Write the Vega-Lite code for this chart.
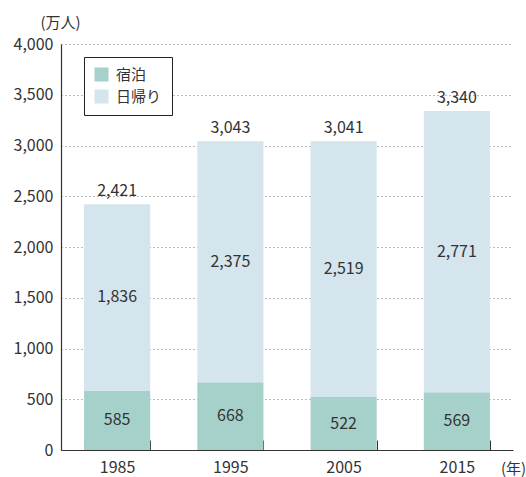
{
  "$schema": "https://vega.github.io/schema/vega-lite/v6.json",
  "width": 452,
  "height": 406,
  "autosize": {"type": "none"},
  "padding": {"left": 61, "top": 44, "right": 13, "bottom": 27},
  "config": {
    "view": {"stroke": null},
    "font": "Noto Sans CJK JP",
    "text": {"font": "Noto Sans CJK JP"}
  },
  "data": {
    "values": [
      {"year": "1985", "type": "宿泊", "value": 585},
      {"year": "1985", "type": "日帰り", "value": 1836},
      {"year": "1995", "type": "宿泊", "value": 668},
      {"year": "1995", "type": "日帰り", "value": 2375},
      {"year": "2005", "type": "宿泊", "value": 522},
      {"year": "2005", "type": "日帰り", "value": 2519},
      {"year": "2015", "type": "宿泊", "value": 569},
      {"year": "2015", "type": "日帰り", "value": 2771}
    ]
  },
  "encoding": {
    "x": {
      "field": "year",
      "type": "ordinal",
      "scale": {"paddingInner": 0.416, "paddingOuter": 0.2035},
      "axis": {
        "title": "(年)",
        "titleX": 452,
        "titleY": 18,
        "titleAlign": "center",
        "titleBaseline": "middle",
        "titleFontSize": 15,
        "titleFontWeight": "normal",
        "titleColor": "#333",
        "labelAngle": 0,
        "labelFontSize": 16,
        "labelColor": "#333",
        "labelPadding": 19,
        "tickBand": "extent",
        "tickSize": -10,
        "tickColor": "#333",
        "domainColor": "#333",
        "domainWidth": 1.2
      }
    }
  },
  "layer": [
    {
      "mark": {"type": "bar"},
      "encoding": {
        "y": {
          "field": "value",
          "type": "quantitative",
          "stack": "zero",
          "scale": {"domain": [0, 4000]},
          "axis": {
            "values": [0, 500, 1000, 1500, 2000, 2500, 3000, 3500, 4000],
            "format": ",d",
            "title": "(万人)",
            "titleAngle": 0,
            "titleX": -1,
            "titleY": -22,
            "titleAlign": "center",
            "titleBaseline": "middle",
            "titleFontSize": 15,
            "titleFontWeight": "normal",
            "titleColor": "#333",
            "labelFontSize": 16,
            "labelColor": "#333",
            "labelPadding": 8,
            "ticks": false,
            "domainColor": "#333",
            "domainWidth": 1.2,
            "grid": true,
            "gridColor": "#777",
            "gridDash": [1, 3],
            "gridWidth": 1
          }
        },
        "order": {"field": "type", "sort": "ascending"},
        "color": {
          "field": "type",
          "type": "nominal",
          "scale": {"domain": ["宿泊", "日帰り"], "range": ["#a5d1ca", "#d4e5ee"]},
          "legend": {
            "title": null,
            "orient": "none",
            "legendX": 23,
            "legendY": 13,
            "strokeColor": "#222",
            "fillColor": "white",
            "padding": 10,
            "symbolType": "square",
            "symbolSize": 196,
            "symbolStrokeWidth": 0,
            "labelFontSize": 15,
            "labelColor": "#333",
            "rowPadding": 6,
            "labelOffset": 7
          }
        }
      }
    },
    {
      "transform": [
        {"stack": "value", "groupby": ["year"], "sort": [{"field": "type", "order": "ascending"}], "as": ["v0", "v1"]},
        {"calculate": "(datum.v0 + datum.v1) / 2", "as": "mid"}
      ],
      "mark": {"type": "text", "fontSize": 16, "color": "#333", "baseline": "middle"},
      "encoding": {
        "y": {"field": "mid", "type": "quantitative"},
        "text": {"field": "value", "type": "quantitative", "format": ",d"}
      }
    },
    {
      "transform": [
        {"aggregate": [{"op": "sum", "field": "value", "as": "total"}], "groupby": ["year"]}
      ],
      "mark": {"type": "text", "fontSize": 16, "color": "#333", "baseline": "bottom", "dy": -5},
      "encoding": {
        "y": {"field": "total", "type": "quantitative"},
        "text": {"field": "total", "type": "quantitative", "format": ",d"}
      }
    }
  ]
}
